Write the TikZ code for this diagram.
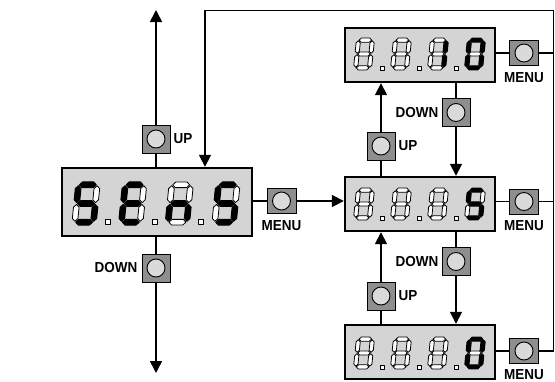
\documentclass[tikz,border=0pt]{standalone}
\usepackage{fontspec}
\usepackage{graphicx}
\setmainfont{Liberation Sans}
\usetikzlibrary{arrows.meta,calc}
\definecolor{dispgray}{HTML}{D4D4D4}
\definecolor{btngray}{HTML}{8E8E8E}
\definecolor{knob}{HTML}{DADADA}
\newcommand{\lab}[1]{\scalebox{0.93}[1]{#1}}
\newcommand{\hseg}[2]{\path[seg#1] (-0.45,#2) -- (-0.30,#2+0.15) -- (0.30,#2+0.15) -- (0.45,#2) -- (0.30,#2-0.15) -- (-0.30,#2-0.15) -- cycle;}
\newcommand{\vseg}[4]{\path[seg#1] (#2,#3+0.05) -- (#2+0.15,#3+0.2) -- (#2+0.15,#4-0.2) -- (#2,#4-0.05) -- (#2-0.15,#4-0.2) -- (#2-0.15,#3+0.2) -- cycle;}
\newcommand{\sevseg}[9]{\begin{scope}[shift={#1},x=#2pt,y=#2pt,xslant=0.1]
 \hseg{#3}{1}\vseg{#4}{0.5}{0}{1}\vseg{#5}{0.5}{-1}{0}\hseg{#6}{-1}\vseg{#7}{-0.5}{-1}{0}\vseg{#8}{-0.5}{0}{1}\hseg{#9}{0}\end{scope}}
\newcommand{\dpt}[2]{\path[segoff] #1 ++(-#2,-#2) rectangle ++(2*#2,2*#2);}
\begin{document}
\begin{tikzpicture}[x=1pt,y=-1pt,
  disp/.style={draw=black, line width=2.4pt, fill=dispgray, rectangle, inner sep=0pt},
  btn/.style={draw=black, line width=0.8pt, fill=btngray, rectangle, minimum width=28pt, minimum height=28pt, inner sep=0pt,
    path picture={\draw[fill=knob, line width=0.9pt] (path picture bounding box.center) circle (9pt);}},
  menubtn/.style={btn, minimum width=29pt, minimum height=25pt},
  conn/.style={line width=1.6pt},
  arr/.style={conn, -{Triangle[width=12pt,length=12pt]}},
  lbl/.style={font=\bfseries\fontsize{14.5}{14.5}\selectfont, inner sep=0pt},
  segon/.style={fill=black, draw=black, line width=1pt, line join=round},
  segoff/.style={fill=white, draw=black, line width=0.8pt, line join=round},
]
\useasboundingbox (0,0) rectangle (555,381);
\fill[white] (0,0) rectangle (555,381);

% displays
\node[disp, minimum width=190pt, minimum height=68pt] (sens) at (157,202) {};
\node[disp, minimum width=150pt, minimum height=54pt] (d1) at (420,55) {};
\node[disp, minimum width=150pt, minimum height=54pt] (d2) at (420,204) {};
\node[disp, minimum width=150pt, minimum height=54pt] (d3) at (420,352) {};

% buttons
\node[btn] (upL) at (156,139) {};
\node[btn] (dnL) at (156,268) {};
\node[menubtn] (m0) at (281.5,201) {};
\node[menubtn] (m1) at (524,53) {};
\node[menubtn] (m2) at (524,201.5) {};
\node[menubtn] (m3) at (524,351) {};
\node[btn] (up1) at (381,146) {};
\node[btn] (dn1) at (456,112.5) {};
\node[btn] (dn2) at (456,261.5) {};
\node[btn] (up2) at (381,296) {};

% labels
\node[lbl, anchor=west] (tupL) at ([xshift=3pt]upL.east) {\lab{UP}};
\node[lbl, anchor=east] (tdnL) at ([xshift=-4pt]dnL.west) {\lab{DOWN}};
\node[lbl, anchor=west] (tup1) at ([xshift=3pt]up1.east) {\lab{UP}};
\node[lbl, anchor=east] (tdn1) at ([xshift=-3pt]dn1.west) {\lab{DOWN}};
\node[lbl, anchor=east] (tdn2) at ([xshift=-3pt]dn2.west) {\lab{DOWN}};
\node[lbl, anchor=west] (tup2) at ([xshift=3pt]up2.east) {\lab{UP}};
\node[lbl, anchor=north] (tm0) at ([yshift=-6pt]m0.south) {\lab{MENU}};
\node[lbl, anchor=north] (tm1) at ([yshift=-6pt]m1.south) {\lab{MENU}};
\node[lbl, anchor=north] (tm2) at ([yshift=-6pt]m2.south) {\lab{MENU}};
\node[lbl, anchor=north] (tm3) at ([yshift=-5pt]m3.south) {\lab{MENU}};

% connectors left
\coordinate (topL) at (156,10);
\coordinate (botL) at (156,373);
\draw[conn] (upL |- sens.north) -- (upL.south);
\draw[arr] (upL.north) -- (topL);
\draw[conn] (dnL |- sens.south) -- (dnL.north);
\draw[arr] (dnL.south) -- (botL);
\draw[conn] (sens.east |- m0) -- (m0.west);
\draw[arr] (m0.east) -- (d2.west |- m0);

% right column
\draw[conn] (up1 |- d2.north) -- (up1.south);
\draw[arr] (up1.north) -- (up1 |- d1.south);
\draw[conn] (dn1 |- d1.south) -- (dn1.north);
\draw[arr] (dn1.south) -- (dn1 |- d2.north);
\draw[conn] (dn2 |- d2.south) -- (dn2.north);
\draw[arr] (dn2.south) -- (dn2 |- d3.north);
\draw[conn] (up2 |- d3.north) -- (up2.south);
\draw[arr] (up2.north) -- (up2 |- d2.south);

% menu loop
\draw[conn] (d1.east |- m1) -- (m1.west);
\draw[conn] (d2.east |- m2) -- (m2.west);
\draw[conn] (d3.east |- m3) -- (m3.west);
\coordinate (rtop) at (553.5,10.5);
\coordinate (ltop) at (205,10.5);
\draw[conn] (m1.east) -- (m1 -| rtop);
\draw[conn] (m2.east) -- (m2 -| rtop);
\draw[arr, line join=miter] (m3.east) -- (m3 -| rtop) -- (rtop) -- (ltop) -- (ltop |- sens.north);

% SEnS digits (a b c d e f g)
\sevseg{(86,203.5)}{18.7}{on}{off}{on}{on}{off}{on}{on}
\sevseg{(132.7,203.5)}{18.7}{on}{off}{off}{on}{on}{on}{on}
\sevseg{(179.3,203.5)}{18.7}{off}{off}{on}{off}{on}{off}{on}
\sevseg{(226,203.5)}{18.7}{on}{off}{on}{on}{off}{on}{on}
\dpt{(108,222)}{2.5}
\dpt{(155,222)}{2.5}
\dpt{(201,222)}{2.5}

% top display 8.8.1.0
\sevseg{(364,54)}{13.9}{off}{off}{off}{off}{off}{off}{off}
\sevseg{(401,54)}{13.9}{off}{off}{off}{off}{off}{off}{off}
\sevseg{(438,54)}{13.9}{off}{on}{on}{off}{off}{off}{off}
\sevseg{(475,54)}{13.9}{on}{on}{on}{on}{on}{on}{off}
\dpt{(382,68)}{2}
\dpt{(419,68)}{2}
\dpt{(456,68)}{2}

% middle display 8.8.8.5
\sevseg{(364,204)}{13.9}{off}{off}{off}{off}{off}{off}{off}
\sevseg{(401,204)}{13.9}{off}{off}{off}{off}{off}{off}{off}
\sevseg{(438,204)}{13.9}{off}{off}{off}{off}{off}{off}{off}
\sevseg{(475,204)}{13.9}{on}{off}{on}{on}{off}{on}{on}
\dpt{(382,218)}{2}
\dpt{(419,218)}{2}
\dpt{(456,218)}{2}

% bottom display 8.8.8.0
\sevseg{(364,353)}{13.9}{off}{off}{off}{off}{off}{off}{off}
\sevseg{(401,353)}{13.9}{off}{off}{off}{off}{off}{off}{off}
\sevseg{(438,353)}{13.9}{off}{off}{off}{off}{off}{off}{off}
\sevseg{(475,353)}{13.9}{on}{on}{on}{on}{on}{on}{off}
\dpt{(382,367)}{2}
\dpt{(419,367)}{2}
\dpt{(456,367)}{2}
\end{tikzpicture}
\end{document}
